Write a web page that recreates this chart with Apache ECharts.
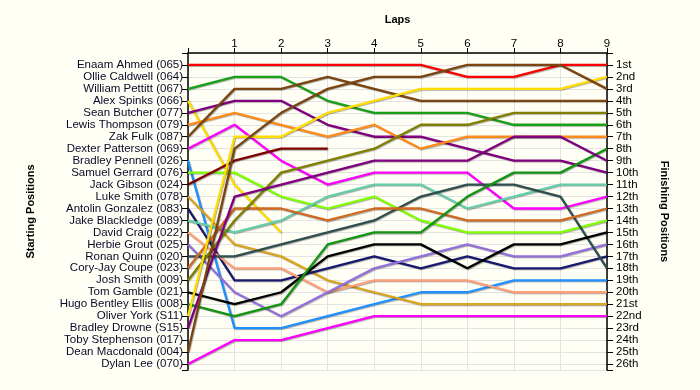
<!DOCTYPE html>
<html>
<head>
<meta charset="utf-8">
<script src="https://cdn.jsdelivr.net/npm/echarts@6/dist/echarts.min.js"></script>
<style>
  html, body { margin: 0; padding: 0; background: #fffff6; }
  #chart { width: 700px; height: 390px; }
</style>
</head>
<body>
<div id="chart"></div>
<script>
// Starting grid (left axis labels, in starting order)
const drivers = [
  "Enaam Ahmed (065)", "Ollie Caldwell (064)", "William Pettitt (067)", "Alex Spinks (066)",
  "Sean Butcher (077)", "Lewis Thompson (079)", "Zak Fulk (087)", "Dexter Patterson (069)",
  "Bradley Pennell (026)", "Samuel Gerrard (076)", "Jack Gibson (024)", "Luke Smith (078)",
  "Antolin Gonzalez (083)", "Jake Blackledge (089)", "David Craig (022)", "Herbie Grout (025)",
  "Ronan Quinn (020)", "Cory-Jay Coupe (023)", "Josh Smith (009)", "Tom Gamble (021)",
  "Hugo Bentley Ellis (008)", "Oliver York (S11)", "Bradley Drowne (S15)", "Toby Stephenson (017)",
  "Dean Macdonald (004)", "Dylan Lee (070)"
];

// Finishing position labels (right axis)
const finishLabels = [
  "1st", "2nd", "3rd", "4th", "5th", "6th", "7th", "8th", "9th", "10th",
  "11th", "12th", "13th", "14th", "15th", "16th", "17th", "18th", "19th", "20th",
  "21st", "22nd", "23rd", "24th", "25th", "26th"
];

// Lap numbers (x axis)
const laps = [0, 1, 2, 3, 4, 5, 6, 7, 8, 9];

// Position of each driver at lap 0..9 (shorter = retired, empty = no data)
const posEnaamAhmed      = [1, 1, 1, 1, 1, 1, 2, 2, 1, 1];
const posOllieCaldwell   = [];
const posWilliamPettitt  = [3, 2, 2, 4, 5, 5, 5, 6, 6, 6];
const posAlexSpinks      = [4, 11, 15];
const posSeanButcher     = [5, 4, 4, 6, 7, 7, 8, 9, 9, 10];
const posLewisThompson   = [6, 5, 6, 7, 6, 8, 7, 7, 7, 7];
const posZakFulk         = [7, 3, 3, 2, 3, 4, 4, 4, 4, 4];
const posDexterPatterson = [8, 6, 9, 11, 10, 10, 10, 13, 13, 12];
const posBradleyPennell  = [9, 23, 23, 22, 21, 20, 20, 19, 19, 19];
const posSamuelGerrard   = [10, 10, 12, 13, 12, 14, 15, 15, 15, 14];
const posJackGibson      = [11, 9, 8, 8];
const posLukeSmith       = [12, 16, 17, 19, 20, 21, 21, 21, 21, 21];
const posAntolinGonzalez = [13, 19, 19, 18, 17, 18, 17, 18, 18, 17];
const posJakeBlackledge  = [14, 15, 14, 12, 11, 11, 13, 12, 11, 11];
const posDavidCraig      = [15, 18, 18, 20, 19, 19, 19, 20, 20, 20];
const posHerbieGrout     = [16, 20, 22, 20, 18, 17, 16, 17, 17, 16];
const posRonanQuinn      = [17, 17, 16, 15, 14, 12, 11, 11, 12, 18];
const posCoryJayCoupe    = [18, 13, 13, 14, 13, 13, 14, 14, 14, 13];
const posJoshSmith       = [19, 14, 10, 9, 8, 6, 6, 5, 5, 5];
const posTomGamble       = [20, 21, 20, 17, 16, 16, 18, 16, 16, 15];
const posHugoBentleyEllis= [21, 22, 21, 16, 15, 15, 12, 10, 10, 8];
const posOliverYork      = [22, 7, 7, 5, 4, 3, 3, 3, 3, 2];
const posBradleyDrowne   = [23, 12, 11, 10, 9, 9, 9, 7, 7, 9];
const posTobyStephenson  = [];
const posDeanMacdonald   = [25, 8, 5, 3, 2, 2, 1, 1, 1, 3];
const posDylanLee        = [26, 24, 24, 23, 22, 22, 22, 22, 22, 22];

const positions = [
  posEnaamAhmed, posOllieCaldwell, posWilliamPettitt, posAlexSpinks, posSeanButcher,
  posLewisThompson, posZakFulk, posDexterPatterson, posBradleyPennell, posSamuelGerrard,
  posJackGibson, posLukeSmith, posAntolinGonzalez, posJakeBlackledge, posDavidCraig,
  posHerbieGrout, posRonanQuinn, posCoryJayCoupe, posJoshSmith, posTomGamble,
  posHugoBentleyEllis, posOliverYork, posBradleyDrowne, posTobyStephenson, posDeanMacdonald,
  posDylanLee
];

// Line colours (styles, separate from the data)
const colors = [
  "#ff0000", "#8fbc8f", "#18a018", "#ffdd00", "#800080",
  "#ff8c1a", "#7a4510", "#ff00ff", "#1e90ff", "#80ff00",
  "#800000", "#daa520", "#191970", "#66cdaa", "#ffa07a",
  "#9370db", "#2f4f4f", "#d2691e", "#808000", "#000000",
  "#129612", "#ffdd00", "#800080", "#a0522d", "#7a4510",
  "#ff00ff"
];

const series = [];
drivers.forEach((name, i) => {
  const p = positions[i];
  if (!p.length) return;
  series.push({
    name: name,
    type: 'line',
    data: p.map((v, k) => [laps[k], v]),
    symbol: 'none',
    silent: true,
    animation: false,
    lineStyle: {
      color: colors[i],
      width: 2.3,
      shadowColor: 'rgba(0,0,0,0.35)',
      shadowBlur: 1,
      shadowOffsetX: 0.8,
      shadowOffsetY: 0.8
    },
    z: 2
  });
});

const font = 'Liberation Sans, Arial, sans-serif';
const chart = echarts.init(document.getElementById('chart'), null, { renderer: 'canvas' });
chart.setOption({
  backgroundColor: '#fffff6',
  animation: false,
  grid: { left: 188, top: 53, right: 93, bottom: 20, containLabel: false },
  xAxis: {
    type: 'value',
    position: 'top',
    min: 0, max: 9, interval: 1,
    name: 'Laps',
    nameLocation: 'middle',
    nameGap: 28,
    nameTextStyle: { fontFamily: font, fontWeight: 'bold', fontSize: 11, color: '#000' },
    axisLine: { show: true, lineStyle: { color: '#000', width: 1.5 } },
    axisTick: { show: true, inside: false, length: 5, lineStyle: { color: '#000' } },
    axisLabel: {
      margin: 3, fontFamily: font, fontSize: 11.5, color: '#000',
      formatter: v => (v === 0 ? '' : String(v))
    },
    splitLine: { show: true, lineStyle: { color: '#e4e4e4', width: 1 } }
  },
  yAxis: [
    {
      type: 'value',
      position: 'left',
      inverse: true,
      min: 0, max: 26.5, interval: 1,
      name: 'Starting Positions',
      nameLocation: 'middle',
      nameGap: 152,
      nameRotate: 90,
      nameTextStyle: { fontFamily: font, fontWeight: 'bold', fontSize: 11, color: '#000' },
      axisLine: { show: true, onZero: false, lineStyle: { color: '#000', width: 1.5 } },
      axisTick: { show: true, inside: false, length: 6, lineStyle: { color: '#000' } },
      axisLabel: {
        margin: 5, fontFamily: font, fontSize: 11.5, color: '#0a0a28',
        formatter: v => (Number.isInteger(v) && v >= 1 && v <= drivers.length ? drivers[v - 1] : '')
      },
      splitLine: { show: true, lineStyle: { color: '#e4e4e4', width: 1 } }
    },
    {
      type: 'value',
      position: 'right',
      inverse: true,
      min: 0, max: 26.5, interval: 1,
      name: 'Finishing Positions',
      nameLocation: 'middle',
      nameGap: 52,
      nameRotate: -90,
      nameTextStyle: { fontFamily: font, fontWeight: 'bold', fontSize: 11, color: '#000' },
      axisLine: { show: true, onZero: false, lineStyle: { color: '#000', width: 1.5 } },
      axisTick: { show: true, inside: false, length: 6, lineStyle: { color: '#000' } },
      axisLabel: {
        margin: 9, fontFamily: font, fontSize: 11.5, color: '#000',
        formatter: v => (Number.isInteger(v) && v >= 1 && v <= finishLabels.length ? finishLabels[v - 1] : '')
      },
      splitLine: { show: false }
    }
  ],
  series: series
});
</script>
</body>
</html>
